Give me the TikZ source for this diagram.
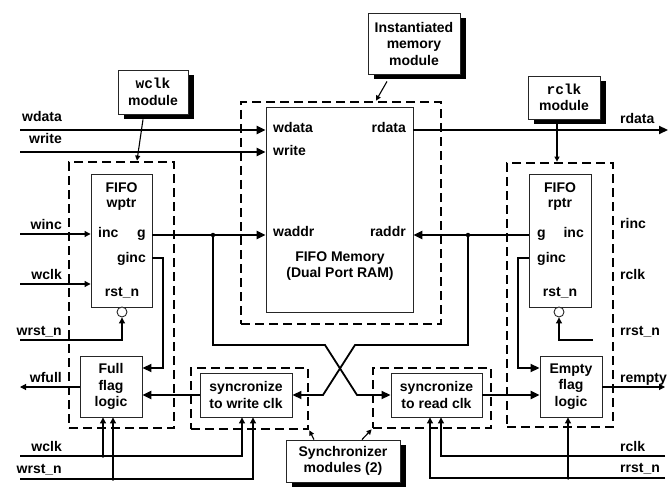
\documentclass[tikz,border=0pt]{standalone}
\usepackage{fontspec}
\setmainfont{Liberation Sans}
\newfontfamily\monof{Liberation Mono}
\usetikzlibrary{arrows.meta}
\begin{document}
\begin{tikzpicture}[x=1pt,y=-1pt,
  font=\fontsize{14}{16.5}\selectfont\bfseries,
  box/.style={draw=black!85, line width=0.9pt, fill=white, inner sep=0pt, align=center},
  shade/.style={fill=black},
  grp/.style={draw, line width=2.8pt, dash pattern=on 9pt off 5pt, inner sep=0pt},
  bus/.style={line width=2.8pt},
  mid/.style={line width=1.8pt},
  sig/.style={line width=1.1pt},
  thickarr/.style={-{Triangle[length=9pt,width=8pt]}},
  thinarr/.style={-{Triangle[length=6pt,width=6pt]}},
  smallarr/.style={-{Triangle[length=5pt,width=5pt]}},
  lbl/.style={inner sep=0pt, align=center},
  ring/.style={draw=black!85, circle, line width=0.9pt, minimum size=10pt, inner sep=0pt, fill=white},
  jdot/.style={circle, fill, inner sep=0pt, minimum size=4.5pt},
]
\useasboundingbox (0,0) rectangle (672,492);

% dashed groups
\node[grp, minimum width=105pt, minimum height=266pt] (wgrp) at (121.5,295) {};
\node[grp, minimum width=200pt, minimum height=222pt] (memgrp) at (341,213) {};
\node[grp, minimum width=106pt, minimum height=264pt] (rgrp) at (560,295) {};
\node[grp, minimum width=117pt, minimum height=61pt] (swgrp) at (249.5,398.5) {};
\node[grp, minimum width=118pt, minimum height=60pt] (srgrp) at (432,398) {};

% drop shadows of the module boxes
\fill[shade] (124,75) rectangle (194,119);
\fill[shade] (374,18) rectangle (466,79);
\fill[shade] (534,81) rectangle (606,124);
\fill[shade] (292,445) rectangle (406,487);

% module boxes
\node[box, minimum width=70pt, minimum height=44pt] (wclkmod) at (153,92) {{\monof\bfseries\fontsize{14.5}{17}\selectfont wclk}\\[1pt]module};
\node[box, minimum width=92pt, minimum height=61pt] (memmod) at (414,43.5) {\fontsize{14}{18}\selectfont Instantiated\\memory\\module};
\node[box, minimum width=72pt, minimum height=43pt] (rclkmod) at (564,97.5) {{\monof\bfseries\fontsize{14.5}{17}\selectfont rclk}\\module};
\node[box, minimum width=114pt, minimum height=42pt] (syncmod) at (343,461) {\fontsize{14}{18}\selectfont Synchronizer\\modules (2)};

% functional boxes
\node[box, minimum width=61pt, minimum height=133pt] (wptr) at (121.5,240.5) {};
\node[box, minimum width=147pt, minimum height=205pt] (mem) at (339.5,209.5) {};
\node[box, minimum width=62pt, minimum height=133pt] (rptr) at (560,240.5) {};
\node[box, minimum width=62pt, minimum height=61pt] (full) at (111,386.5) {Full\\flag\\logic};
\node[box, minimum width=62pt, minimum height=61pt] (empty) at (571,386.5) {Empty\\flag\\logic};
\node[box, minimum width=92pt, minimum height=44pt] (sw) at (246,395) {\fontsize{14}{16}\selectfont syncronize\\to write clk};
\node[box, minimum width=91pt, minimum height=44pt] (sr) at (436.5,395) {\fontsize{14}{16}\selectfont syncronize\\to read clk};
\node[ring] (wcirc) at (122,312) {};
\node[ring] (rcirc) at (559,312) {};

% level coordinates
\coordinate (gY) at (0,235);
\coordinate (gincY) at (0,258);
\coordinate (flagY) at (0,368);

% top buses
\coordinate (wdataIn) at (20,130);
\coordinate (writeIn) at (20,152);
\coordinate (rdataOut) at (668,130);
\draw[bus,thickarr] (wdataIn) -- (wdataIn -| mem.west);
\draw[bus,thickarr] (writeIn) -- (writeIn -| mem.west);
\draw[bus,thickarr] (rdataOut -| mem.east) -- (rdataOut);

% left inputs
\coordinate (wincIn) at (20,234);
\coordinate (wclkIn) at (20,284);
\coordinate (wrstIn) at (20,340);
\draw[sig,thinarr] (wincIn) -- (wincIn -| wptr.west);
\draw[sig,thinarr] (wclkIn) -- (wclkIn -| wptr.west);
\draw[sig,thinarr] (wrstIn) -| (wcirc.south);
\coordinate (rrstM) at (593,340);
\draw[sig,thinarr] (rrstM) -| (rcirc.south);

% address buses
\draw[bus,thickarr] (wptr.east |- gY) -- (mem.west |- gY);
\draw[bus,thickarr] (rptr.west |- gY) -- (mem.east |- gY);
\coordinate (wj) at (213,235);
\coordinate (rj) at (468,235);
\draw[mid,thickarr] (wj) -- (213,345) -- (325,345) -- (357,395) -- (sr.west);
\draw[mid,thickarr] (rj) -- (468,345) -- (355,345) -- (323,395) -- (sw.east);
\node[jdot] at (wj) {};
\node[jdot] at (rj) {};

% ginc
\draw[mid,thickarr] (wptr.east |- gincY) -- (163,258) -- (163,368) -- (full.east |- flagY);
\draw[mid,thickarr] (rptr.west |- gincY) -- (518,258) -- (518,368) -- (empty.west |- flagY);

% sync to flag logic
\draw[bus,thickarr] (sw.west) -- (full.east |- sw.west);
\draw[bus,thickarr] (sr.east) -- (empty.west |- sr.east);

% flags out
\coordinate (wfullOut) at (20,387);
\coordinate (remptyOut) at (665,387);
\draw[sig,thinarr] (full.west |- wfullOut) -- (wfullOut);
\draw[sig,thinarr] (empty.east |- remptyOut) -- (remptyOut);

% bottom clocks/resets
\coordinate (wclkB) at (20,456);
\coordinate (wrstB) at (20,479);
\coordinate (b1) at (242,456);
\coordinate (b2) at (253,479);
\coordinate (j1) at (103,456);
\coordinate (j2) at (113,479);
\draw[sig,thinarr] (wclkB) -- (b1) -- (b1 |- sw.south);
\draw[sig,thinarr] (wrstB) -- (b2) -- (b2 |- sw.south);
\draw[sig,thinarr] (j1) -- (j1 |- full.south);
\draw[sig,thinarr] (j2) -- (j2 |- full.south);
\node[jdot, minimum size=3.5pt] at (j1) {};
\node[jdot, minimum size=3.5pt] at (j2) {};

\coordinate (rclkB) at (665,456);
\coordinate (rrstB) at (665,478);
\coordinate (b3) at (441,456);
\coordinate (b4) at (430,478);
\coordinate (j3) at (568,478);
\draw[sig,thinarr] (rclkB) -- (b3) -- (b3 |- sr.south);
\draw[sig,thinarr] (rrstB) -- (b4) -- (b4 |- sr.south);
\draw[sig,thinarr] (j3) -- (j3 |- empty.south);
\node[jdot, minimum size=3.5pt] at (j3) {};

% module pointers
\draw[sig,smallarr] ([xshift=-10pt,yshift=-5pt]wclkmod.south) -- ([xshift=15.5pt]wgrp.north);
\draw[sig,smallarr] ([xshift=-27pt,yshift=-7pt]memmod.south) -- ([xshift=35pt]memgrp.north);
\draw[sig,smallarr] ([xshift=-7pt,yshift=-5pt]rclkmod.south) -- ([xshift=-3pt]rgrp.north);
\draw[sig,smallarr] ([xshift=-29pt]syncmod.north) -- (swgrp.south east);
\draw[sig,smallarr] ([xshift=19pt]syncmod.north) -- (srgrp.south west);

% outside labels (left)
\node[lbl, anchor=base east] (lwdata) at (62,122) {wdata};
\node[lbl, anchor=base east] (lwrite) at (62,143) {write};
\node[lbl, anchor=base east] (lwinc) at (62,229) {winc};
\node[lbl, anchor=base east] (lwclk) at (62,279) {wclk};
\node[lbl, anchor=base east] (lwrst) at (62,335) {wrst\_n};
\node[lbl, anchor=base east] (lwfull) at (62,382) {wfull};
\node[lbl, anchor=base east] (lwclkB) at (62,451) {wclk};
\node[lbl, anchor=base east] (lwrstB) at (62,473) {wrst\_n};

% outside labels (right)
\node[lbl, anchor=base west] (lrdata) at (620,124) {rdata};
\node[lbl, anchor=base west] (lrinc) at (620,228) {rinc};
\node[lbl, anchor=base west] (lrclk) at (620,279) {rclk};
\node[lbl, anchor=base west] (lrrst) at (620,335) {rrst\_n};
\node[lbl, anchor=base west] (lrempty) at (620,382) {rempty};
\node[lbl, anchor=base west] (lrclkB) at (620,451) {rclk};
\node[lbl, anchor=base west] (lrrstB) at (620,472) {rrst\_n};

% wptr ports
\node[lbl, anchor=base] (wpF) at (121.5,192) {FIFO};
\node[lbl, anchor=base] (wpN) at (121.5,207) {wptr};
\node[lbl, anchor=base west] (wpInc) at (98,237) {inc};
\node[lbl, anchor=base east] (wpG) at (146,237) {g};
\node[lbl, anchor=base east] (wpGinc) at (146,262) {ginc};
\node[lbl, anchor=base] (wpRst) at (122,296) {rst\_n};

% rptr ports
\node[lbl, anchor=base] (rpF) at (560,192) {FIFO};
\node[lbl, anchor=base] (rpN) at (560,207) {rptr};
\node[lbl, anchor=base west] (rpG) at (537,237) {g};
\node[lbl, anchor=base east] (rpInc) at (584,237) {inc};
\node[lbl, anchor=base west] (rpGinc) at (537,262) {ginc};
\node[lbl, anchor=base] (rpRst) at (560,296) {rst\_n};

% memory ports
\node[lbl, anchor=base west] (mWdata) at (273,133) {wdata};
\node[lbl, anchor=base west] (mWrite) at (273,156) {write};
\node[lbl, anchor=base east] (mRdata) at (406,133) {rdata};
\node[lbl, anchor=base west] (mWaddr) at (273,236) {waddr};
\node[lbl, anchor=base east] (mRaddr) at (406,236) {raddr};
\node[lbl, anchor=base] (mT1) at (340,261) {FIFO Memory};
\node[lbl, anchor=base] (mT2) at (340,277) {(Dual Port RAM)};
\end{tikzpicture}
\end{document}
